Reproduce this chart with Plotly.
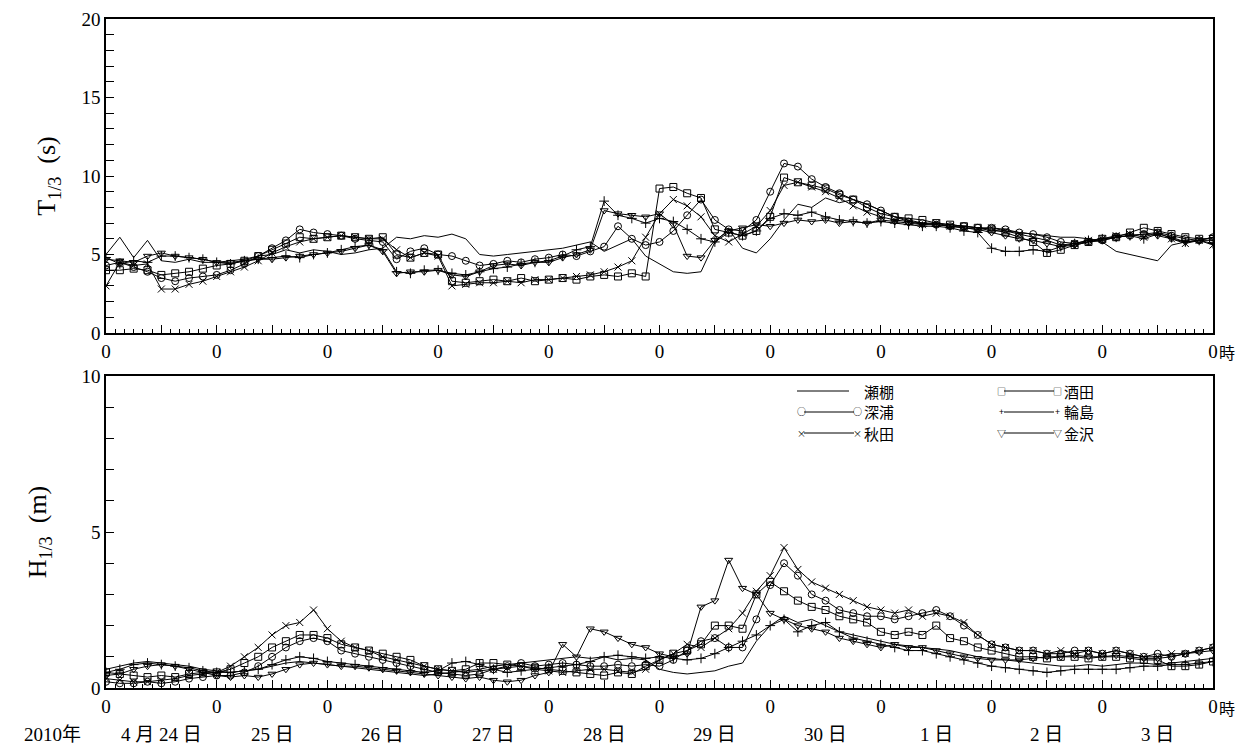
import plotly.graph_objects as go

# ---------------- data (3-hourly, 2010-04-24 00h .. 2010-05-04 00h) ----------------
hours = list(range(0, 241, 3))

stations = ["瀬棚", "酒田", "深浦", "輪島", "秋田", "金沢"]
symbols = [None, "square-open", "circle-open", "cross-thin-open", "x-thin-open", "triangle-down-open"]

# T1/3 (s)
T_setana = [5.0, 6.1, 4.8, 5.9, 4.6, 4.5, 4.7, 4.5,
            4.5, 4.6, 4.7, 4.9, 5.0, 5.3, 5.1, 5.3,
            5.2, 5.0, 5.1, 5.3, 5.4, 6.1, 6.0, 6.2,
            6.1, 6.3, 6.0, 5.0, 4.9, 5.0, 5.1, 5.2,
            5.3, 5.4, 5.6, 5.8, 5.2, 5.6, 6.0, 4.9,
            4.4, 3.9, 3.8, 3.9, 5.8, 6.6, 5.4, 5.1,
            6.0, 7.2, 8.2, 8.0, 8.6, 8.3, 8.5, 8.2,
            7.8, 7.4, 7.2, 7.0, 7.0, 6.9, 6.8, 6.7,
            6.5, 6.5, 6.4, 6.3, 6.2, 6.1, 6.1, 6.0,
            5.8, 5.2, 5.0, 4.8, 4.6, 5.6, 5.8, 5.9,
            5.9]
T_sakata = [4.0, 4.0, 4.1, 4.0, 3.7, 3.8, 3.9, 4.1,
            4.3, 4.4, 4.6, 4.9, 5.3, 5.7, 6.1, 6.0,
            6.1, 6.2, 6.1, 6.0, 6.1, 5.0, 4.8, 5.1,
            5.0, 3.3, 3.2, 3.3, 3.4, 3.3, 3.5, 3.3,
            3.4, 3.5, 3.4, 3.6, 3.7, 3.6, 3.8, 3.6,
            9.2, 9.3, 8.9, 8.6, 6.6, 6.4, 6.2, 6.5,
            7.4, 9.9, 9.6, 9.4, 9.2, 8.8, 8.5, 8.0,
            7.6, 7.4, 7.3, 7.2, 7.0, 6.9, 6.8, 6.7,
            6.6, 6.4, 6.1, 5.8, 5.1, 5.3, 5.6, 5.8,
            6.0, 6.1, 6.4, 6.7, 6.5, 6.3, 6.1, 6.0,
            6.0]
T_fukaura = [4.3, 4.5, 4.2, 3.9, 3.5, 3.3, 3.5, 3.6,
             3.7, 4.0, 4.4, 4.9, 5.4, 5.9, 6.6, 6.4,
             6.3, 6.2, 6.0, 5.9, 5.8, 4.7, 5.2, 5.4,
             5.0, 4.9, 4.6, 4.3, 4.4, 4.6, 4.5, 4.7,
             4.8, 5.0, 4.9, 5.2, 5.5, 6.8, 6.0, 5.6,
             5.8, 6.5, 7.5, 8.5, 7.2, 6.6, 6.5, 7.2,
             9.0, 10.8, 10.6, 9.8, 9.3, 8.9, 8.5, 8.2,
             7.8, 7.4, 7.1, 7.0, 6.9, 6.8, 6.8, 6.7,
             6.7, 6.6, 6.4, 6.3, 6.1, 5.8, 5.7, 5.8,
             5.9, 6.1, 6.2, 6.3, 6.4, 6.2, 6.0, 5.9,
             6.1]
T_wajima = [4.8, 4.4, 4.6, 4.5, 4.9, 4.9, 4.8, 4.7,
            4.5, 4.4, 4.6, 4.7, 4.8, 4.9, 4.8, 5.0,
            5.1, 5.3, 5.5, 5.6, 5.3, 3.9, 3.8, 4.0,
            4.0, 3.8, 3.7, 3.9, 4.1, 4.2, 4.4, 4.5,
            4.6, 4.9, 5.3, 5.5, 8.4, 7.5, 7.3, 7.0,
            7.3, 7.1, 6.6, 6.0, 5.8, 6.4, 6.2, 6.5,
            7.3, 7.6, 7.5, 7.7, 7.4, 7.2, 7.1, 7.0,
            7.1, 7.0, 6.9, 6.8, 6.8, 6.7, 6.5, 6.4,
            5.4, 5.2, 5.2, 5.3, 5.2, 5.5, 5.7, 5.9,
            6.0, 6.1, 6.2, 6.0, 6.3, 6.1, 5.8, 5.9,
            5.7]
T_akita = [3.0, 4.5, 4.3, 4.4, 2.8, 2.8, 3.1, 3.3,
           3.6, 3.9, 4.2, 4.6, 5.1, 5.5, 5.8, 6.0,
           6.1, 6.2, 6.1, 6.0, 6.0, 5.3, 4.8, 5.1,
           4.9, 3.0, 3.1, 3.2, 3.2, 3.3, 3.2, 3.4,
           3.4, 3.5, 3.6, 3.7, 3.9, 4.2, 4.6, 6.1,
           7.6, 8.5, 8.1, 7.4, 6.2, 5.8, 6.3, 6.8,
           7.8, 9.4, 9.6, 9.3, 9.0, 8.6, 8.1, 7.7,
           7.4, 7.2, 7.1, 6.9, 7.0, 6.8, 6.7, 6.6,
           6.7, 6.5, 6.3, 6.1, 5.9, 5.6, 5.7, 5.9,
           6.0, 6.2, 6.3, 6.1, 6.4, 6.0, 5.7, 5.9,
           5.6]
T_kanazawa = [4.7, 4.6, 4.5, 4.9, 5.1, 4.9, 4.8, 4.7,
              4.5, 4.5, 4.6, 4.7, 4.7, 4.8, 4.9, 5.0,
              5.1, 5.2, 5.4, 5.6, 5.2, 3.8, 3.9, 3.9,
              4.0, 3.7, 3.6, 3.9, 4.3, 4.4, 4.3, 4.5,
              4.5, 4.8, 5.0, 5.3, 7.8, 7.6, 7.5, 7.4,
              7.6, 6.9, 4.9, 4.8, 5.9, 6.5, 6.7, 6.9,
              6.8, 7.0, 7.2, 7.1, 7.2, 7.0, 7.1, 7.0,
              7.2, 7.1, 7.0, 6.9, 6.9, 6.8, 6.7, 6.6,
              6.4, 6.2, 6.0, 5.9, 5.7, 5.5, 5.6, 5.8,
              5.9, 6.1, 6.2, 6.3, 6.2, 6.0, 5.8, 5.9,
              6.1]

# H1/3 (m)
H_setana = [0.6, 0.7, 0.8, 0.85, 0.8, 0.75, 0.7, 0.6,
            0.55, 0.5, 0.55, 0.6, 0.7, 0.8, 0.85, 0.8,
            0.75, 0.7, 0.65, 0.6, 0.55, 0.5, 0.45, 0.4,
            0.45, 0.5, 0.55, 0.6, 0.7, 0.75, 0.8, 0.85,
            0.9, 0.95, 1.0, 0.95, 1.0, 0.9, 0.95, 0.9,
            0.6, 0.5, 0.45, 0.5, 0.55, 0.7, 0.8, 1.5,
            2.0, 2.3, 2.1, 2.2, 2.0, 1.8, 1.7, 1.6,
            1.5, 1.4, 1.35, 1.3, 1.25, 1.2, 1.1, 1.0,
            0.95, 0.9, 0.85, 0.8, 0.75, 0.7, 0.7, 0.75,
            0.7, 0.75, 0.8, 0.8, 0.75, 0.8, 0.85, 0.9,
            0.95]
H_sakata = [0.5, 0.45, 0.4, 0.35, 0.4, 0.35, 0.45, 0.5,
            0.5, 0.6, 0.8, 1.0, 1.3, 1.5, 1.7, 1.7,
            1.6, 1.4, 1.3, 1.2, 1.1, 1.0, 0.9, 0.7,
            0.6, 0.55, 0.6, 0.8, 0.8, 0.75, 0.7, 0.65,
            0.6, 0.55, 0.5, 0.45, 0.4, 0.5, 0.45, 0.7,
            0.9, 1.1, 1.2, 1.4, 2.0, 2.0, 1.9, 3.0,
            3.4, 3.1, 2.8, 2.6, 2.5, 2.3, 2.2, 2.1,
            1.8, 1.7, 1.8, 1.7, 2.0, 1.6, 1.5, 1.3,
            1.2, 1.1, 1.0, 1.0, 0.95, 1.0, 1.0, 0.95,
            1.0, 1.0, 0.95, 0.9, 0.9, 0.7, 0.7, 0.75,
            0.85]
H_fukaura = [0.2, 0.15, 0.15, 0.2, 0.15, 0.2, 0.3, 0.35,
             0.4, 0.4, 0.5, 0.7, 1.0, 1.3, 1.5, 1.6,
             1.5, 1.2, 1.1, 1.0, 0.9, 0.8, 0.7, 0.6,
             0.5, 0.45, 0.4, 0.45, 0.6, 0.7, 0.8, 0.7,
             0.75, 0.8, 0.75, 0.7, 0.7, 0.75, 0.7, 0.75,
             0.7, 0.9, 1.2, 1.5, 1.6, 1.3, 1.3, 2.2,
             3.3, 4.0, 3.6, 3.0, 2.8, 2.5, 2.4, 2.3,
             2.3, 2.2, 2.3, 2.4, 2.5, 2.3, 2.0, 1.7,
             1.4, 1.3, 1.2, 1.2, 1.1, 1.1, 1.2, 1.2,
             1.1, 1.2, 1.1, 1.0, 1.1, 1.0, 1.1, 1.2,
             1.3]
H_wajima = [0.5, 0.6, 0.75, 0.8, 0.75, 0.7, 0.65, 0.55,
            0.5, 0.5, 0.55, 0.6, 0.75, 0.9, 1.0, 0.95,
            0.85, 0.8, 0.75, 0.7, 0.65, 0.6, 0.55, 0.5,
            0.55, 0.8, 0.85, 0.75, 0.6, 0.5, 0.55, 0.6,
            0.65, 0.7, 0.75, 0.85, 1.0, 1.05, 1.0, 0.95,
            1.0, 0.95, 0.9, 0.95, 1.1, 1.3, 1.5, 1.7,
            2.0, 2.2, 1.8, 2.0, 2.1, 1.8, 1.6, 1.5,
            1.4, 1.3, 1.2, 1.2, 1.1, 1.0, 0.9, 0.8,
            0.7, 0.65, 0.6, 0.55, 0.5, 0.55, 0.6, 0.6,
            0.6, 0.6, 0.65, 0.7, 0.7, 0.75, 0.75, 0.8,
            0.85]
H_akita = [0.3, 0.25, 0.2, 0.2, 0.25, 0.3, 0.4, 0.45,
           0.5, 0.7, 1.0, 1.3, 1.7, 2.0, 2.1, 2.5,
           1.9, 1.5, 1.3, 1.2, 1.0, 0.9, 0.8, 0.7,
           0.6, 0.55, 0.5, 0.55, 0.6, 0.65, 0.7, 0.6,
           0.55, 0.5, 0.55, 0.6, 0.6, 0.55, 0.5, 0.6,
           0.9, 1.1, 1.4, 1.3, 1.6, 1.9, 2.4, 3.1,
           3.6, 4.5, 3.8, 3.4, 3.2, 3.0, 2.8, 2.6,
           2.5, 2.4, 2.5, 2.3, 2.4, 2.3, 2.1, 1.7,
           1.4, 1.3, 1.2, 1.2, 1.1, 1.2, 1.1, 1.2,
           1.1, 1.2, 1.1, 1.0, 1.0, 1.1, 1.1, 1.2,
           1.3]
H_kanazawa = [0.4, 0.45, 0.6, 0.7, 0.75, 0.7, 0.6, 0.5,
              0.4, 0.35, 0.4, 0.35, 0.45, 0.6, 0.75, 0.8,
              0.75, 0.7, 0.7, 0.65, 0.6, 0.55, 0.5, 0.45,
              0.4, 0.35, 0.3, 0.35, 0.25, 0.2, 0.25, 0.4,
              0.5, 1.4, 1.0, 1.9, 1.8, 1.6, 1.4, 1.3,
              1.1, 1.0, 1.1, 2.6, 2.8, 4.1, 3.2, 3.0,
              2.4, 2.2, 2.0, 1.9, 1.8, 1.6, 1.5, 1.4,
              1.3, 1.4, 1.3, 1.3, 1.2, 1.1, 1.0, 0.95,
              0.9, 0.9, 0.9, 0.95, 1.0, 1.0, 1.05, 1.0,
              1.0, 1.05, 1.0, 0.95, 0.95, 1.0, 1.1, 1.15,
              1.2]

x_tick_labels = ["0"] * 11
date_labels = ["4 月 24 日", "25 日", "26 日", "27 日", "28 日", "29 日", "30 日", "1 日", "2 日", "3 日"]
year_label = "2010年"

T_series = [T_setana, T_sakata, T_fukaura, T_wajima, T_akita, T_kanazawa]
H_series = [H_setana, H_sakata, H_fukaura, H_wajima, H_akita, H_kanazawa]

# ---------------- figure ----------------
FONT = "Liberation Serif, 'Noto Sans CJK JP', serif"
CJK = "'Noto Sans CJK JP', sans-serif"
W, Hh = 1242, 749
ML, MT = 106, 19
MR = W - 1213
MB = Hh - 688
PW, PH = W - ML - MR, Hh - MT - MB

def py(p):  # page pixel y -> paper
    return (688 - p) / PH

def px(p):  # page pixel x -> paper
    return (p - 106) / PW

fig = go.Figure()
for name, sym, tv, hv in zip(stations, symbols, T_series, H_series):
    for xa, ya, vals in (("x", "y", tv), ("x2", "y2", hv)):
        if sym is None:
            fig.add_trace(go.Scatter(x=hours, y=vals, mode="lines", name=name,
                                     line=dict(color="black", width=1),
                                     xaxis=xa, yaxis=ya, showlegend=False))
        else:
            fig.add_trace(go.Scatter(x=hours, y=vals, mode="lines+markers", name=name,
                                     line=dict(color="black", width=1),
                                     marker=dict(symbol=sym, size=7, color="black",
                                                 line=dict(color="black", width=1)),
                                     xaxis=xa, yaxis=ya, showlegend=False))

major_vals = list(range(0, 241, 12))
major_text = [x_tick_labels[v // 24] if v % 24 == 0 else " " for v in major_vals]

xcommon = dict(range=[0, 240], tickmode="array", tickvals=major_vals, ticktext=major_text,
               ticks="inside", ticklen=8, tickwidth=1, tickcolor="black", automargin=False,
               minor=dict(tick0=0, dtick=2, ticks="inside", ticklen=4, tickwidth=1, tickcolor="black"),
               showline=True, mirror=True, linecolor="black", linewidth=1.5,
               showgrid=False, zeroline=False, tickfont=dict(family=FONT, size=19, color="black"))

def ycommon(top):
    vals = list(range(0, top + 1))
    return dict(range=[0, top], tickmode="array", tickvals=vals,
                ticktext=[str(v) if v % 5 == 0 else " " for v in vals],
                ticks="inside", ticklen=8, tickwidth=1, tickcolor="black", automargin=False,
                showline=True, mirror=True, linecolor="black", linewidth=1.5,
                showgrid=False, zeroline=False,
                tickfont=dict(family=FONT, size=19, color="black"))

fig.update_layout(
    width=W, height=Hh, paper_bgcolor="white", plot_bgcolor="white",
    margin=dict(l=ML, r=MR, t=MT, b=MB, autoexpand=False),
    font=dict(family=FONT, color="black"),
    showlegend=False,
    xaxis=dict(anchor="y", domain=[0, 1], **xcommon),
    xaxis2=dict(anchor="y2", domain=[0, 1], **xcommon),
    yaxis=dict(anchor="x", domain=[py(333), 1],
               title=dict(text="T<sub>1/3</sub>  (s)", font=dict(family=FONT, size=26), standoff=18),
               **ycommon(20)),
    yaxis2=dict(anchor="x2", domain=[0, py(376)],
                title=dict(text="H<sub>1/3</sub>  (m)", font=dict(family=FONT, size=26), standoff=27),
                **ycommon(10)),
)

ann = []
# "時" after the last 0 labels
for yy in (352, 708):
    ann.append(dict(x=240, xref="x", y=py(yy), yref="paper", text="時", showarrow=False,
                    xanchor="left", yanchor="middle", xshift=4,
                    font=dict(family=CJK, size=16, color="black")))
# date row
for k, lab in enumerate(date_labels):
    ann.append(dict(x=12 + 24 * k, xref="x2", y=py(734), yref="paper", text=lab, showarrow=False,
                    xanchor="center", yanchor="middle", font=dict(family=FONT, size=19, color="black")))
ann.append(dict(x=px(52), xref="paper", y=py(734), yref="paper", text=year_label, showarrow=False,
                xanchor="center", yanchor="middle", font=dict(family=FONT, size=19, color="black")))

# legend (drawn manually: marker-line-marker + name)
leg_cols = [(801, 857, 862), (1001, 1057, 1062)]
leg_rows = [391, 412, 433]
leg_items = [(0, 0, "瀬棚", None), (1, 0, "酒田", "□"),
             (0, 1, "深浦", "○"), (1, 1, "輪島", "+"),
             (0, 2, "秋田", "×"), (1, 2, "金沢", "▽")]
shapes = []
for col, row, name, ch in leg_items:
    x0, x1, xt = leg_cols[col]
    yy = py(leg_rows[row])
    if ch is None:
        shapes.append(dict(type="line", xref="paper", yref="paper", x0=px(x0 - 4), x1=px(x1 - 8),
                           y0=yy, y1=yy, line=dict(color="black", width=1)))
    else:
        shapes.append(dict(type="line", xref="paper", yref="paper", x0=px(x0 + 3), x1=px(x1 - 3),
                           y0=yy, y1=yy, line=dict(color="black", width=1)))
        for xm in (x0, x1):
            ann.append(dict(x=px(xm), xref="paper", y=yy, yref="paper", text=ch, showarrow=False,
                            xanchor="center", yanchor="middle",
                            font=dict(family=CJK, size=9, color="black")))
    ann.append(dict(x=px(xt), xref="paper", y=yy, yref="paper", text=name, showarrow=False,
                    xanchor="left", yanchor="middle", font=dict(family=CJK, size=15, color="black")))

fig.update_layout(annotations=ann, shapes=shapes)
fig.write_html("out.html", config={"displayModeBar": False},
               post_script="document.body.style.margin='0px';document.body.style.overflow='hidden';")
